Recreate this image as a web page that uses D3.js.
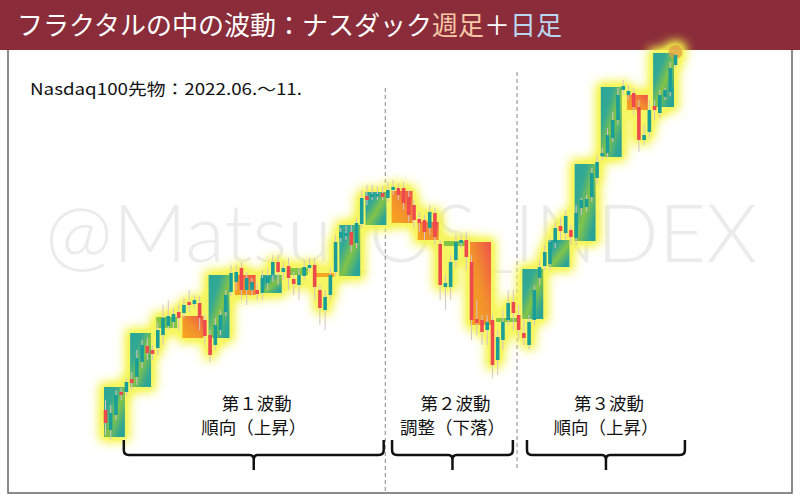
<!DOCTYPE html>
<html><head><meta charset="utf-8">
<script src="https://cdn.jsdelivr.net/npm/d3@7"></script>
<style>html,body{margin:0;padding:0;background:#fff;}svg{display:block;}</style>
</head><body><svg id="c" width="800" height="498"></svg>
<script>
// ---------- data ----------
const dayOpen = [11100,10900,11050,11280,11280,11410,11430,11580,11740,11700,
 11720,11850,11940,11980,12080,12070,12180,12160,12170,12000,
 11850,11750,11900,12080,12280,12380,12520,12300,12300,12300,
 12270,12370,12450,12580,12480,12540,12410,12350,12440,12520,
 12550,12300,12100,12250,12480,12820,12840,12880,12770,12960,
 13240,13230,13240,13270,13220,13300,13320,13320,13230,13150,
 13010,13000,12920,13070,12760,12330,12330,12600,12770,12800,
 12580,12010,12000,11900,12000,11600,11800,12000,12180,12050,
 11870,11750,12000,12420,12540,12560,12770,12940,12870,12900,
 12820,13120,13130,13230,13420,13640,13670,13820,14000,14300,
 14250,14270,14130,13800,13880,14140,14070,14230,14280,14550];
const dayHigh = [11200,11150,11300,11320,11420,11480,11700,11800,11820,11750,
 11980,12150,12200,12120,12150,12220,12300,12250,12240,12050,
 11900,12020,12100,12300,12550,12550,12580,12480,12420,12370,
 12500,12520,12650,12650,12580,12620,12480,12520,12600,12620,
 12620,12350,12300,12520,12850,12920,12940,12950,13020,13300,
 13350,13350,13340,13340,13380,13400,13370,13380,13300,13200,
 13080,13050,13150,13120,12800,12450,12650,12850,12850,12880,
 12650,12200,12050,12050,12050,11900,12100,12300,12300,12150,
 12000,12050,12350,12600,12750,12820,12980,13020,13100,12950,
 13150,13220,13250,13520,13650,13720,13920,14080,14320,14400,
 14350,14320,14200,13950,14200,14200,14300,14320,14580,14720];
const dayLow = [10850,10800,11000,11200,11240,11300,11350,11520,11600,11600,
 11650,11750,11900,11920,11900,12020,12080,12120,11900,11750,
 11580,11700,11850,12040,12240,12300,12200,12150,12240,12200,
 12200,12300,12380,12350,12400,12300,12250,12200,12400,12480,
 12200,11950,11900,12200,12440,12780,12800,12680,12720,12920,
 13150,13200,13200,13200,13180,13250,13200,13100,12980,12920,
 12880,12800,12850,12750,12200,12100,12200,12520,12720,12500,
 11800,11850,11750,11750,11420,11450,11700,11950,11900,11800,
 11750,11700,11950,12350,12500,12500,12720,12800,12800,12750,
 12750,13050,13080,13180,13350,13600,13620,13780,13950,14250,
 14200,14050,13680,13750,13820,14000,14020,14200,14240,14520];
const dayClose = [10970,11070,11250,11250,11380,11370,11620,11750,11670,11660,
 11900,12020,12040,12060,12020,12150,12150,12200,12020,11840,
 11650,11950,12050,12250,12470,12480,12300,12420,12380,12260,
 12420,12440,12580,12480,12520,12420,12360,12450,12530,12550,
 12330,12120,12230,12450,12780,12880,12870,12750,12970,13220,
 13200,13260,13260,13230,13300,13330,13250,13170,13050,13000,
 12970,12880,13080,12830,12350,12370,12580,12780,12800,12630,
 12000,11970,11880,11980,11550,11830,11980,12170,12070,11900,
 11820,11980,12300,12530,12680,12780,12920,12890,13040,12830,
 13070,13200,13210,13470,13580,13670,13850,14000,14250,14340,
 14290,14130,13800,13850,14100,14100,14250,14300,14520,14650];
const weekOpen  = [10830,11330,11920,12040,11820,12450,12270,12450,12470,12440,12950,13290,12980,12740,12780,11980,12010,12530,12790,13630,14250,14130];
const weekClose = [11330,11870,12030,11820,12450,12250,12450,12520,12430,12950,13280,12970,12800,12790,11950,12020,12510,12800,13560,14330,14100,14670];
const waveSplits = [53.5, 78.7];
const waveStart = [3.5, 54.8, 80.6];
const waveEnd   = [53.2, 77.9, 110.8];
const waveTitle = ["第１波動", "第２波動", "第３波動"];
const waveKind  = ["順向（上昇）", "調整（下落）", "順向（上昇）"];
const titleParts = [["フラクタルの中の波動：ナスダック", "#ffffff"], ["週足", "#f6c8a6"], ["＋", "#ffffff"], ["日足", "#bcd6f2"]];
const subTitle = "Nasdaq100先物：2022.06.～11.";
const watermark = "@Matsu_OS_INDEX";

// ---------- chart ----------
const svg = d3.select("#c");
const JP = "'Noto Sans CJK JP','Noto Sans',sans-serif";
const x = d3.scaleLinear().domain([0, 109]).range([105.5, 675.5]);
const y = d3.scaleLinear().domain([10800, 14650]).range([440, 55]);
const days = d3.range(dayOpen.length).map(i => ({i, o: dayOpen[i], h: dayHigh[i], l: dayLow[i], c: dayClose[i]}));
const weeks = d3.range(weekOpen.length).map(k => ({k, o: weekOpen[k], c: weekClose[k]}));

const defs = svg.append("defs");
const f = defs.append("filter").attr("id", "glow").attr("x", "-10%").attr("y", "-10%").attr("width", "120%").attr("height", "120%");
f.append("feMorphology").attr("in", "SourceAlpha").attr("operator", "dilate").attr("radius", 4).attr("result", "d");
f.append("feGaussianBlur").attr("in", "d").attr("stdDeviation", 5.5).attr("result", "b");
f.append("feComponentTransfer").attr("in", "b").attr("result", "b2")
  .append("feFuncA").attr("type", "linear").attr("slope", 1.6).attr("intercept", 0);
f.append("feFlood").attr("flood-color", "#f5f548").attr("flood-opacity", 0.85);
f.append("feComposite").attr("in2", "b2").attr("operator", "in");
const gu = defs.append("linearGradient").attr("id", "gUp").attr("x1", 0).attr("y1", 0).attr("x2", 1).attr("y2", 1);
[[0, "#1fa19b"], [0.3, "#2aa596"], [0.55, "#7cc146"], [0.85, "#22a199"], [1, "#1e9f9a"]].forEach(s => gu.append("stop").attr("offset", s[0]).attr("stop-color", s[1]));
const gd = defs.append("linearGradient").attr("id", "gDn").attr("x1", 1).attr("y1", 0).attr("x2", 0).attr("y2", 1);
[[0, "#ee4a48"], [0.5, "#f28a2a"], [1, "#f7a21b"]].forEach(s => gd.append("stop").attr("offset", s[0]).attr("stop-color", s[1]));

// title bar
svg.append("rect").attr("x", 0).attr("y", 0).attr("width", 800).attr("height", 50).attr("fill", "#8a2c3a");
const tt = svg.append("text").attr("x", 17).attr("y", 35).attr("font-family", JP).attr("font-size", 26);
titleParts.forEach(p => tt.append("tspan").attr("fill", p[1]).text(p[0]));
// frame
svg.append("path").attr("d", "M8,50 V493 H792 V50").attr("fill", "none").attr("stroke", "#666").attr("stroke-width", 1.5);

// watermark
svg.append("text").attr("x", 45).attr("y", 262).attr("font-family", "Lato,'Open Sans',sans-serif").attr("font-weight", 300)
  .attr("font-size", 80).attr("fill", "#ebebeb").attr("textLength", 712).attr("lengthAdjust", "spacingAndGlyphs").text(watermark);

svg.append("text").attr("x", 30).attr("y", 95).attr("font-family", JP).attr("font-size", 16).attr("fill", "#111")
  .attr("textLength", 272).attr("lengthAdjust", "spacingAndGlyphs").text(subTitle);

// dashed separators
svg.selectAll("line.sep").data(waveSplits).join("line").attr("class", "sep")
  .attr("x1", d => x(d)).attr("x2", d => x(d)).attr("y1", (d, i) => i ? 72 : 88).attr("y2", (d, i) => i ? 470 : 492)
  .attr("stroke", "#888").attr("stroke-width", 1).attr("stroke-dasharray", "4,3");

const bw = 3.6;
const wx0 = w => x(w.k * 5) - 1.5, wx1 = w => x(w.k * 5 + 4) - 1.5;
const bodyY = d => y(Math.max(d.o, d.c));
const bodyH = (d, m) => Math.max(m, Math.abs(y(d.o) - y(d.c)));

// glow layer
const glow = svg.append("g").attr("filter", "url(#glow)");
glow.selectAll("rect.w").data(weeks).join("rect").attr("class", "w")
  .attr("x", wx0).attr("width", w => wx1(w) - wx0(w))
  .attr("y", bodyY).attr("height", w => bodyH(w, 4)).attr("fill", "#000");
glow.selectAll("rect.d").data(days).join("rect").attr("class", "d")
  .attr("x", d => x(d.i) - bw / 2).attr("width", bw)
  .attr("y", bodyY).attr("height", d => bodyH(d, 2.5)).attr("fill", "#000");
glow.append("circle").attr("cx", x(days.length - 1)).attr("cy", y(dayClose[dayClose.length - 1]) - 3).attr("r", 6).attr("fill", "#000");
// weekly boxes
const main = svg.append("g");
main.selectAll("rect.w").data(weeks).join("rect").attr("class", "w")
  .attr("x", wx0).attr("width", w => wx1(w) - wx0(w))
  .attr("y", bodyY).attr("height", w => bodyH(w, 4))
  .attr("fill", w => {
    const h = Math.abs(y(w.o) - y(w.c));
    if (h < 12) return w.c >= w.o ? "#7cc243" : "#f5a11c";
    return w.c >= w.o ? "url(#gUp)" : "url(#gDn)";
  }).attr("opacity", 0.95);
// wicks
main.selectAll("line.wick").data(days).join("line").attr("class", "wick")
  .attr("x1", d => x(d.i)).attr("x2", d => x(d.i)).attr("y1", d => y(d.h)).attr("y2", d => y(d.l))
  .attr("stroke", "#d6c4c2").attr("stroke-width", 1);
// last marker
main.append("circle").attr("cx", x(days.length - 1)).attr("cy", y(dayClose[dayClose.length - 1]) - 3).attr("r", 7)
  .attr("fill", "#e0a040").attr("opacity", 0.75);
// daily bodies
main.selectAll("rect.d").data(days).join("rect").attr("class", "d")
  .attr("x", d => x(d.i) - bw / 2).attr("width", bw)
  .attr("y", bodyY).attr("height", d => bodyH(d, 2.5))
  .attr("fill", d => d.c >= d.o ? "#1a9f98" : "#ee4a4e");

// wave brackets + labels
const waves = waveStart.map((s, i) => ({s, e: waveEnd[i], t: waveTitle[i], k: waveKind[i]}));
const br = svg.append("g");
br.selectAll("path").data(waves).join("path")
  .attr("d", d => {
    const a = x(d.s), b = x(d.e), m = (a + b) / 2;
    return `M${a},440 V450 Q${a},455 ${a + 5},455 H${m - 4} Q${m},455 ${m},460 V470 M${m},460 Q${m},455 ${m + 4},455 H${b - 5} Q${b},455 ${b},450 V440`;
  })
  .attr("fill", "none").attr("stroke", "#111").attr("stroke-width", 2.5).attr("stroke-linecap", "butt");
br.selectAll("text.t").data(waves).join("text").attr("class", "t")
  .attr("x", d => (x(d.s) + x(d.e)) / 2 + 3).attr("y", 410).attr("text-anchor", "middle")
  .attr("font-family", JP).attr("font-size", 17.5).attr("fill", "#111").text(d => d.t);
br.selectAll("text.k").data(waves).join("text").attr("class", "k")
  .attr("x", d => (x(d.s) + x(d.e)) / 2).attr("y", 434).attr("text-anchor", "middle")
  .attr("font-family", JP).attr("font-size", 17.5).attr("fill", "#111").text(d => d.k);
</script></body></html>
